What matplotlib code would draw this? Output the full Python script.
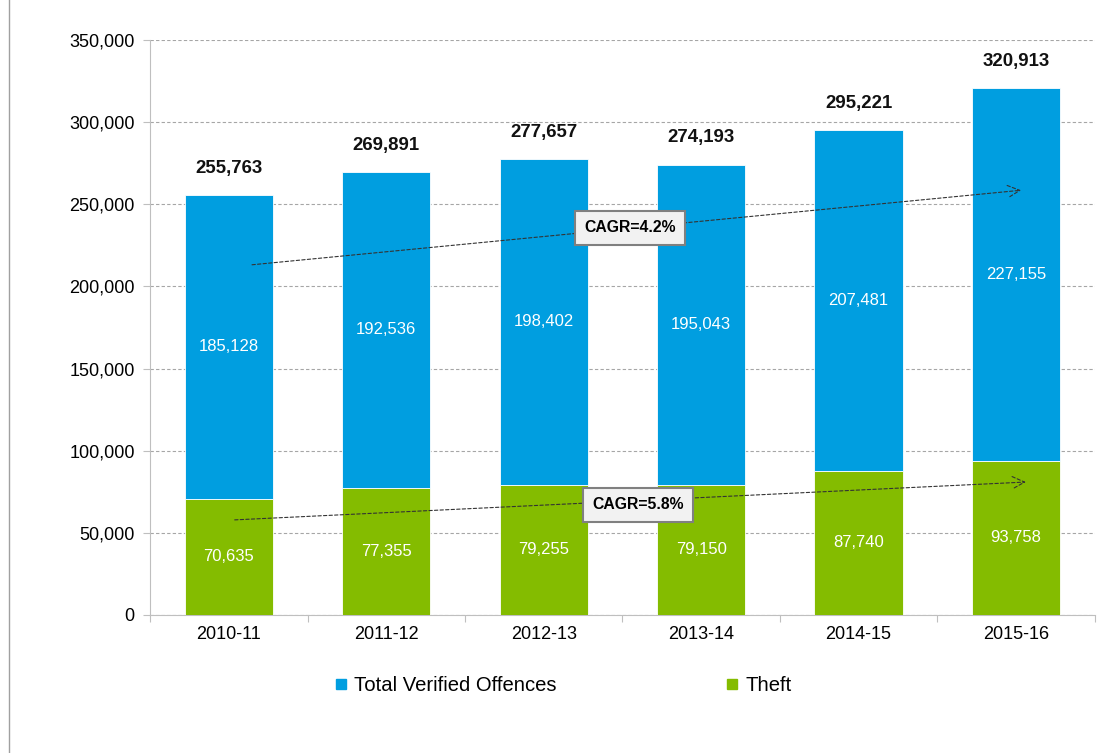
import numpy as np
import matplotlib.pyplot as plt
from matplotlib.ticker import FuncFormatter
from matplotlib.lines import Line2D

plt.rcParams['font.family'] = ['Liberation Sans', 'DejaVu Sans']

years = ["2010-11", "2011-12", "2012-13", "2013-14", "2014-15", "2015-16"]
totals = [255763, 269891, 277657, 274193, 295221, 320913]
theft = [70635, 77355, 79255, 79150, 87740, 93758]
other = [185128, 192536, 198402, 195043, 207481, 227155]

blue = "#009EE0"
green = "#84BC00"

fig = plt.figure(figsize=(11.14, 7.53), dpi=100)
ax = fig.add_axes([0.1347, 0.1833, 0.848, 0.7636])

x = np.arange(len(years))
w = 0.56
ax.bar(x, theft, w, color=green, edgecolor="white", linewidth=0.6, label="Theft", zorder=3)
ax.bar(x, other, w, bottom=theft, color=blue, edgecolor="white", linewidth=0.6,
       label="Total Verified Offences", zorder=3)

#segment labels
for i in range(len(years)):
    ax.text(x[i], theft[i] / 2, f"{theft[i]:,}", ha="center", va="center",
            color="white", fontsize=12, zorder=4)
    ax.text(x[i], theft[i] + other[i] / 2, f"{other[i]:,}", ha="center", va="center",
            color="white", fontsize=12, zorder=4)
    ax.text(x[i], totals[i] + 11000, f"{totals[i]:,}", ha="center", va="bottom",
            fontsize=13.4, fontweight="bold", color="#111111", zorder=4)

#CAGR arrows
arrow_style = dict(arrowstyle="->", linestyle=(0, (3, 2)), color="#333333", lw=0.8,
                   mutation_scale=22)
ax.annotate("", xy=(5.05, 258700), xytext=(0.13, 213000), arrowprops=arrow_style, zorder=5)
ax.annotate("", xy=(5.08, 81000), xytext=(0.02, 57800), arrowprops=arrow_style, zorder=5)

box = dict(boxstyle="square,pad=0.6", facecolor="#f2f2f2", edgecolor="#808080", lw=1.5)
ax.text(2.55, 235600, "CAGR=4.2%", ha="center", va="center", fontsize=11.3,
        fontweight="bold", bbox=box, zorder=6)
ax.text(2.6, 67000, "CAGR=5.8%", ha="center", va="center", fontsize=11.3,
        fontweight="bold", bbox=box, zorder=6)

ax.set_xlim(-0.5, 5.5)
ax.set_ylim(0, 350000)
ax.set_yticks(np.arange(0, 350001, 50000))
ax.yaxis.set_major_formatter(FuncFormatter(lambda v, p: f"{int(v):,}"))
ax.set_xticks(np.arange(-0.5, 6, 1))
ax.set_xticklabels([])
ax.set_xticks(x, minor=True)
ax.set_xticklabels(years, minor=True)
ax.tick_params(axis="x", which="minor", length=0, labelsize=13, pad=8)
ax.tick_params(axis="x", which="major", length=5, color="#bfbfbf")
ax.tick_params(axis="y", length=5, color="#bfbfbf", labelsize=13, pad=6)

ax.grid(axis="y", linestyle=(0, (3, 2)), color="#a6a6a6", lw=0.8, zorder=0)
for s in ["top", "right"]:
    ax.spines[s].set_visible(False)
ax.spines["left"].set_color("#bfbfbf")
ax.spines["bottom"].set_color("#bfbfbf")

handles = [Line2D([], [], marker="s", linestyle="none", color=blue, markersize=7),
           Line2D([], [], marker="s", linestyle="none", color=green, markersize=7)]
fig.legend(handles, ["Total Verified Offences", "Theft"], loc="center",
           bbox_to_anchor=(0.505, 0.09), ncol=2, frameon=False, fontsize=14.6,
           handletextpad=0.3, columnspacing=8.3, handlelength=0.7)

#left border line
fig.add_artist(Line2D([0.008, 0.008], [0.0, 1.0], color="#a0a0a0", lw=1))

fig.savefig("out.png", dpi=100)
